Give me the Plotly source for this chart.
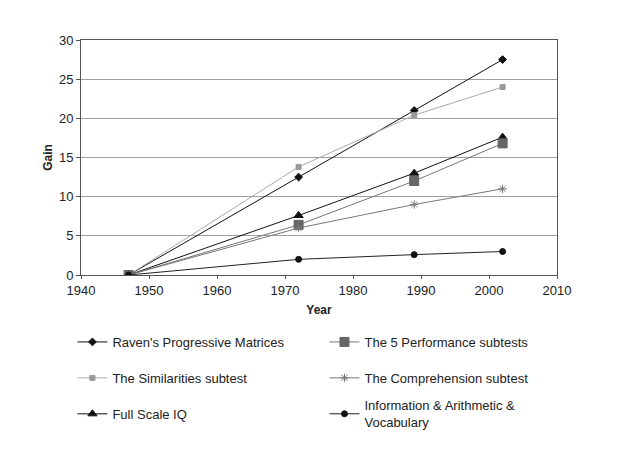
import plotly.graph_objects as go

years = [1947, 1972, 1989, 2002]
raven = [0, 12.5, 21.0, 27.5]
similarities = [0, 13.8, 20.4, 24.0]
full_scale = [0, 7.6, 13.0, 17.6]
performance = [0, 6.4, 12.0, 16.8]
comprehension = [0, 6.0, 9.0, 11.0]
info_arith_vocab = [0, 2.0, 2.6, 3.0]

names = ["Raven's Progressive Matrices", "The Similarities subtest", "Full Scale IQ",
         "The 5 Performance subtests", "The Comprehension subtest",
         "Information & Arithmetic &<br>Vocabulary"]
series = [raven, similarities, full_scale, performance, comprehension, info_arith_vocab]
line_colors = ["#111111", "#aaaaaa", "#111111", "#777777", "#777777", "#222222"]
marker_colors = ["#111111", "#999999", "#111111", "#666666", "#777777", "#111111"]
symbols = ["diamond", "square", "triangle-up", "square", "asterisk-open", "circle"]
sizes = [6, 5, 8, 9, 7, 6]
legend_ids = ["legend", "legend2", "legend3", "legend4", "legend5", "legend6"]

fig = go.Figure()
for n, s, lc, mc, sym, sz, lg in zip(names, series, line_colors, marker_colors, symbols, sizes, legend_ids):
    fig.add_trace(go.Scatter(
        x=years, y=s, name=n, mode="lines+markers",
        line=dict(color=lc, width=1),
        marker=dict(symbol=sym, size=sz, color=mc, line=dict(color=mc, width=1)),
        legend=lg,
    ))

font = dict(family="Liberation Sans, Arial, sans-serif", size=13, color="#222222")
leg_pos = [(-0.018, -0.285), (-0.018, -0.438), (-0.018, -0.591),
           (0.5115, -0.285), (0.5115, -0.438), (0.5115, -0.591)]
legends = {}
for lg, (x, y) in zip(legend_ids, leg_pos):
    legends[lg] = dict(x=x, y=y, xanchor="left", yanchor="middle", font=font,
                       bgcolor="rgba(0,0,0,0)", itemwidth=30, valign="middle")

fig.update_layout(
    width=626, height=456,
    margin=dict(l=73, r=77, t=32, b=189),
    plot_bgcolor="white", paper_bgcolor="white",
    font=font,
    showlegend=True,
    **legends,
)
fig.update_xaxes(range=[1940, 2010], dtick=10, showgrid=False, zeroline=False,
                 showline=True, linecolor="#555555", linewidth=1, mirror=True,
                 ticks="outside", ticklen=3, tickcolor="#555555",
                 title=dict(text="<b>Year</b>", standoff=9, font=dict(size=12)))
fig.update_yaxes(range=[0, 30], dtick=5, showgrid=True, gridcolor="#a0a0a0", gridwidth=1,
                 zeroline=False, showline=True, linecolor="#555555", linewidth=1, mirror=True,
                 ticks="outside", ticklen=4, tickcolor="#555555",
                 title=dict(text="<b>Gain</b>", standoff=3, font=dict(size=12)))

fig.write_html("out.html")
